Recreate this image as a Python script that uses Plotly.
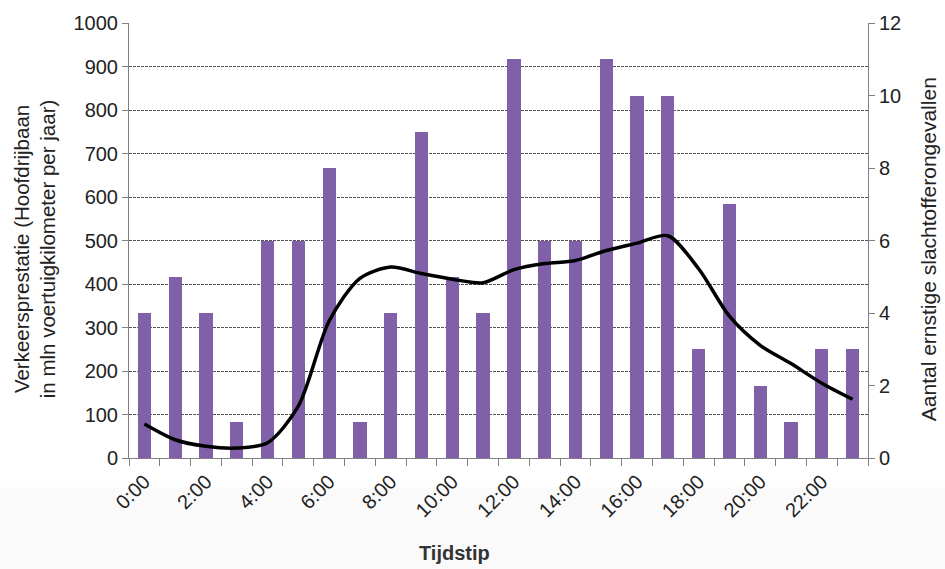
import plotly.graph_objects as go

# Hour of day (category index) and tick labels
hours = list(range(24))
tick_hours = list(range(0, 24, 2))
tick_labels = [f"{h}:00" for h in tick_hours]

# Serious-casualty accidents per hour (right axis)
accidents = [4, 5, 4, 1, 6, 6, 8, 1, 4, 9, 5, 4,
             11, 6, 6, 11, 10, 10, 3, 7, 2, 1, 3, 3]

# Traffic volume on the main carriageway, million vehicle-km per year (left axis)
traffic = [78, 42, 27, 23, 35, 119, 315, 413, 439, 424, 411, 403,
           433, 447, 454, 477, 494, 511, 435, 326, 259, 217, 172, 135]

FONT = "Liberation Sans, Arial, sans-serif"
AXIS_GREY = "#808080"
TEXT = "#222222"

fig = go.Figure()

fig.add_trace(go.Bar(
    x=hours, y=accidents, yaxis="y",
    marker=dict(color="#8060a8", line=dict(width=0)),
    width=0.43, name="Ongevallen", showlegend=False,
))

fig.add_trace(go.Scatter(
    x=hours, y=traffic, yaxis="y2", mode="lines",
    line=dict(color="#000000", width=3.5, shape="spline", smoothing=0.8),
    name="Verkeersprestatie", showlegend=False,
))

fig.update_layout(
    width=945, height=569,
    margin=dict(l=129, r=77, t=15, b=111),
    paper_bgcolor="#ffffff", plot_bgcolor="#ffffff",
    font=dict(family=FONT, size=20, color=TEXT),
    bargap=0,
    xaxis=dict(
        range=[-0.5, 23.5],
        tickmode="array", tickvals=tick_hours, ticktext=tick_labels,
        tickangle=-45, ticks="", showgrid=False, zeroline=False,
        showline=True, linecolor=AXIS_GREY, linewidth=1,
        tickfont=dict(size=20, color=TEXT),
        ticklabelstandoff=3,
        minor=dict(tick0=-0.5, dtick=1, ticks="outside", ticklen=7,
                   tickcolor=AXIS_GREY, showgrid=False),
    ),
    yaxis=dict(
        side="right", range=[0, 12], dtick=2,
        ticks="outside", ticklen=6, tickcolor=AXIS_GREY,
        showline=True, linecolor=AXIS_GREY, linewidth=1,
        showgrid=False, zeroline=False,
        tickfont=dict(size=20, color=TEXT),
    ),
    yaxis2=dict(
        overlaying="y", side="left", range=[0, 1000], dtick=100,
        ticks="outside", ticklen=6, tickcolor=AXIS_GREY,
        showline=True, linecolor=AXIS_GREY, linewidth=1,
        showgrid=True, gridcolor="#555555", gridwidth=1, griddash="3px,1px",
        zeroline=False,
        tickfont=dict(size=20, color=TEXT),
    ),
    shapes=[dict(
        type="rect", xref="paper", yref="paper",
        x0=-0.2, x1=1.2, y0=-0.27, y1=-0.068,
        fillcolor="#fafafa", line=dict(width=0), layer="below",
    )],
    annotations=[
        dict(text="Verkeersprestatie (Hoofdrijbaan<br>in mln voertuigkilometer per jaar)",
             xref="paper", yref="paper", x=0, y=0.48, xshift=-94,
             textangle=-90, showarrow=False, xanchor="center", yanchor="middle",
             font=dict(size=20.5, color=TEXT)),
        dict(text="Aantal ernstige slachtofferongevallen",
             xref="paper", yref="paper", x=1, y=0.48, xshift=60,
             textangle=-90, showarrow=False, xanchor="center", yanchor="middle",
             font=dict(size=21, color=TEXT)),
        dict(text="<b>Tijdstip</b>",
             xref="paper", yref="paper", x=0.44, y=0, yshift=-95,
             showarrow=False, xanchor="center", yanchor="middle",
             font=dict(size=20, color="#333333")),
    ],
)

fig.write_html("out.html")
